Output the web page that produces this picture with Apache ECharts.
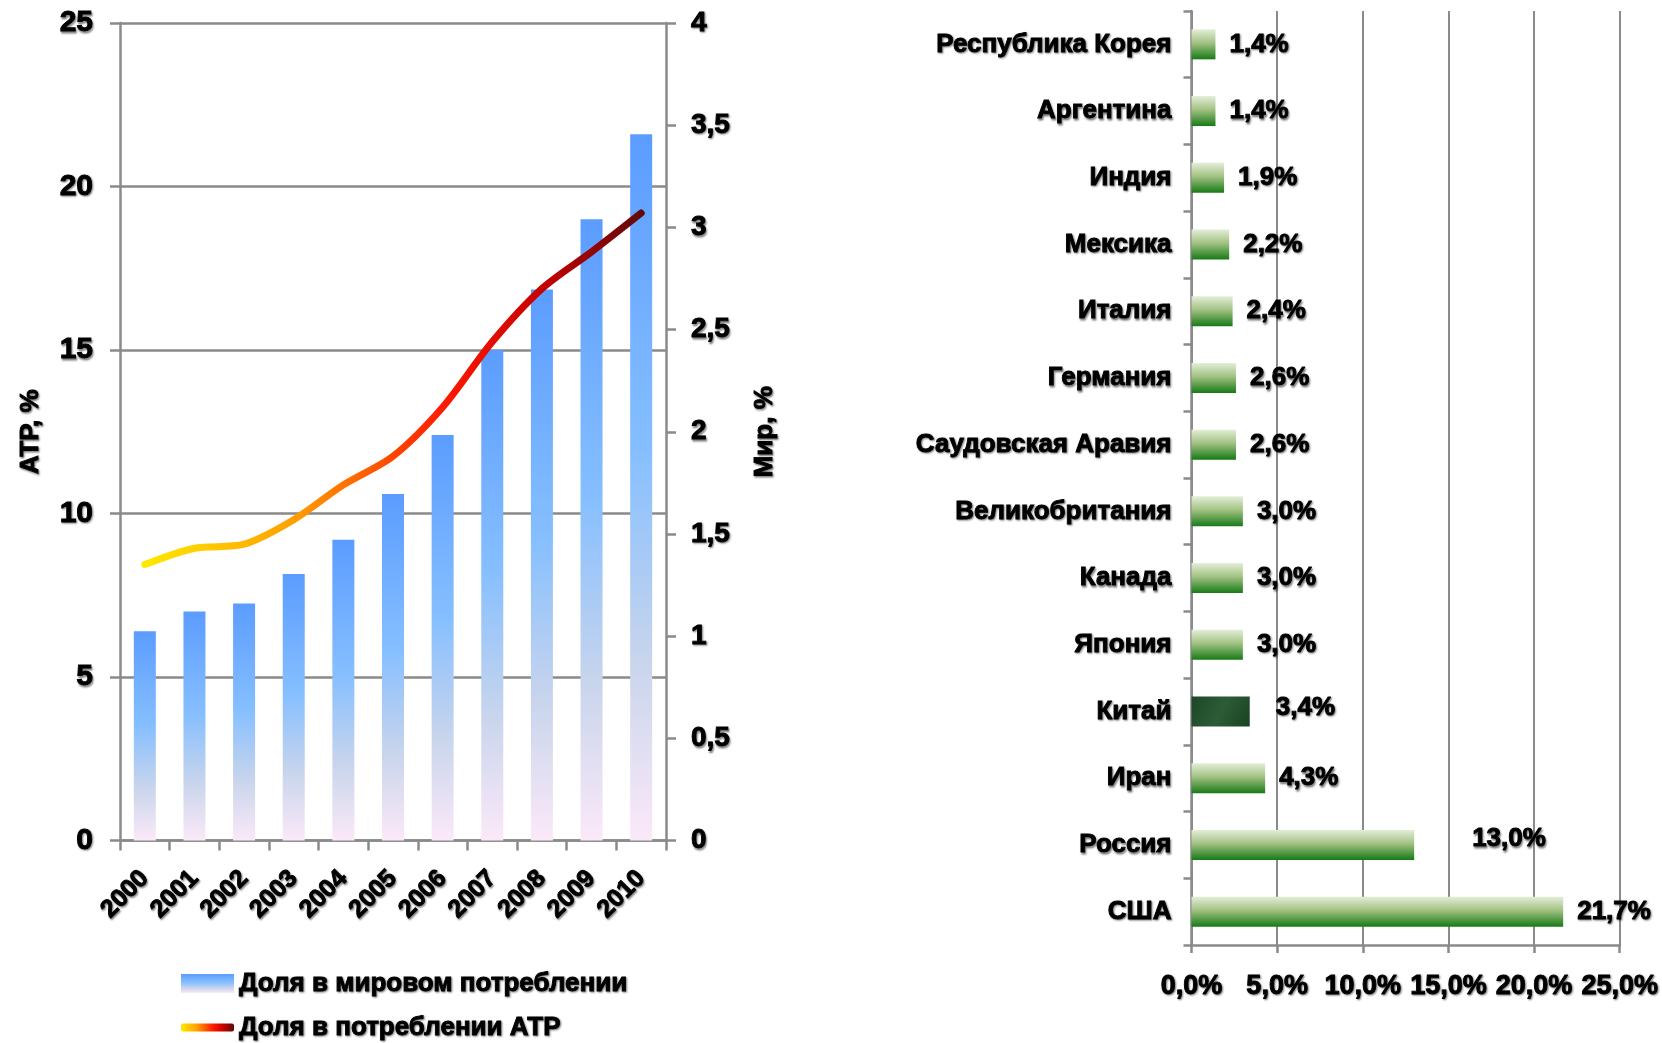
<!DOCTYPE html>
<html>
<head>
<meta charset="utf-8">
<script src="https://cdn.jsdelivr.net/npm/echarts@6/dist/echarts.min.js"></script>
<style>
  html, body { margin: 0; padding: 0; background: #fff; }
  #main { width: 1662px; height: 1043px; }
</style>
</head>
<body>
<div id="main"></div>
<script>
// годы и доли (левый график)
var years = ['2000', '2001', '2002', '2003', '2004', '2005', '2006', '2007', '2008', '2009', '2010'];
var worldShare = [6.4, 7.0, 7.25, 8.15, 9.2, 10.6, 12.4, 15.0, 16.85, 19.0, 21.6];
var atrShare = [1.35, 1.43, 1.45, 1.57, 1.74, 1.88, 2.12, 2.44, 2.70, 2.88, 3.07];
var leftTicks = [0, 5, 10, 15, 20, 25];
var rightTicks = [0, 0.5, 1, 1.5, 2, 2.5, 3, 3.5, 4];

// страны (правый график), сверху вниз
var countries = ['Республика Корея', 'Аргентина', 'Индия', 'Мексика', 'Италия', 'Германия',
  'Саудовская Аравия', 'Великобритания', 'Канада', 'Япония', 'Китай', 'Иран', 'Россия', 'США'];
var countryShare = [1.4, 1.4, 1.9, 2.2, 2.4, 2.6, 2.6, 3.0, 3.0, 3.0, 3.4, 4.3, 13.0, 21.7];
var pctTicks = [0, 5, 10, 15, 20, 25];

var FONT = '"Liberation Sans", Arial, sans-serif';
var heavy = {
  textBorderColor: '#000',
  textBorderWidth: 0.9,
  textShadowColor: 'rgba(0,0,0,0.45)',
  textShadowBlur: 2,
  textShadowOffsetX: 1,
  textShadowOffsetY: 1.5
};
function txt(size, extra) {
  return Object.assign({ fontFamily: FONT, fontWeight: 'bold', fontSize: size, color: '#000' }, heavy, extra || {});
}
function comma(v, digits) {
  return v.toFixed(digits).replace('.', ',');
}

var blueGrad = new echarts.graphic.LinearGradient(0, 0, 0, 1, [
  { offset: 0, color: '#5b9cff' },
  { offset: 0.45, color: '#86bfff' },
  { offset: 0.75, color: '#c9d5ec' },
  { offset: 1, color: '#fbe9f8' }
]);
var lineGrad = new echarts.graphic.LinearGradient(0, 0, 1, 0, [
  { offset: 0, color: '#ffea00' },
  { offset: 0.3, color: '#ffa000' },
  { offset: 0.6, color: '#ff1a00' },
  { offset: 0.8, color: '#c40000' },
  { offset: 1, color: '#5e0a0a' }
]);
var greenGrad = new echarts.graphic.LinearGradient(0, 0, 0, 1, [
  { offset: 0, color: '#e3eed8' },
  { offset: 0.45, color: '#a3c283' },
  { offset: 1, color: '#177a17' }
]);
var chinaGrad = new echarts.graphic.LinearGradient(0, 0, 1, 1, [
  { offset: 0, color: '#1d4628' },
  { offset: 0.5, color: '#2c5c36' },
  { offset: 1, color: '#1a4224' }
]);

var greenData = countryShare.map(function (v, i) {
  var item = { value: v, itemStyle: { color: countries[i] === 'Китай' ? chinaGrad : greenGrad } };
  if (countries[i] === 'Россия') item.label = { offset: [44, -6] };
  if (countries[i] === 'Китай') item.label = { offset: [12, -4] };
  return item;
});

var gray = '#8a8a8a';

var option = {
  animation: false,
  backgroundColor: '#fff',
  grid: [
    { left: 120, right: 996, top: 23, bottom: 202.5 },
    { left: 1191.5, right: 42.3, top: 11, bottom: 98 }
  ],
  legend: [
    {
      data: ['Доля в мировом потреблении'],
      left: 176, top: 965,
      icon: 'rect', itemWidth: 53, itemHeight: 19, itemGap: 4,
      textStyle: txt(26)
    },
    {
      data: ['Доля в потреблении АТР'],
      left: 176, top: 1009,
      icon: 'roundRect', itemWidth: 53, itemHeight: 8,
      textStyle: txt(26)
    }
  ],
  xAxis: [
    {
      gridIndex: 0, type: 'category', data: years, boundaryGap: true,
      axisLine: { lineStyle: { color: gray, width: 2.5 } },
      axisTick: { show: true, length: 10, lineStyle: { color: gray, width: 2.5 } },
      axisLabel: Object.assign(txt(25), { rotate: 45, margin: 34 })
    },
    {
      gridIndex: 1, type: 'value', min: pctTicks[0], max: pctTicks[pctTicks.length - 1], interval: 5,
      axisLine: { show: true, lineStyle: { color: gray, width: 2.5 } },
      axisTick: { show: true, length: 8, lineStyle: { color: gray, width: 2.5 } },
      splitLine: { show: true, lineStyle: { color: gray, width: 2 } },
      axisLabel: Object.assign(txt(27), {
        margin: 28,
        formatter: function (v) { return comma(v, 1) + '%'; }
      })
    }
  ],
  yAxis: [
    {
      gridIndex: 0, type: 'value', min: leftTicks[0], max: leftTicks[leftTicks.length - 1], interval: 5,
      name: 'АТР, %', nameLocation: 'middle', nameGap: 76, nameRotate: 90,
      nameTextStyle: txt(26),
      axisLine: { show: true, lineStyle: { color: gray, width: 2.5 } },
      axisTick: { show: true, length: 10, lineStyle: { color: gray, width: 2.5 } },
      splitLine: { show: true, lineStyle: { color: gray, width: 2.5 } },
      axisLabel: Object.assign(txt(30), { margin: 27 })
    },
    {
      gridIndex: 0, type: 'value', position: 'right',
      min: rightTicks[0], max: rightTicks[rightTicks.length - 1], interval: 0.5,
      name: 'Мир, %', nameLocation: 'middle', nameGap: 86, nameRotate: 90,
      nameTextStyle: txt(26),
      axisLine: { show: true, lineStyle: { color: gray, width: 2.5 } },
      axisTick: { show: true, length: 10, lineStyle: { color: gray, width: 2.5 } },
      splitLine: { show: false },
      axisLabel: Object.assign(txt(28), {
        margin: 25,
        formatter: function (v) { return String(v).replace('.', ','); }
      })
    },
    {
      gridIndex: 1, type: 'category', data: countries, inverse: true,
      axisLine: { show: true, lineStyle: { color: gray, width: 2.5 } },
      axisTick: { show: true, length: 8, lineStyle: { color: gray, width: 2.5 } },
      axisLabel: Object.assign(txt(26), { margin: 20 })
    }
  ],
  series: [
    {
      name: 'Доля в мировом потреблении', type: 'bar',
      xAxisIndex: 0, yAxisIndex: 0,
      data: worldShare, barWidth: 22,
      itemStyle: { color: blueGrad }
    },
    {
      name: 'Доля в потреблении АТР', type: 'line',
      xAxisIndex: 0, yAxisIndex: 1,
      data: atrShare, smooth: 0.3, symbol: 'none',
      itemStyle: { color: lineGrad },
      lineStyle: { color: lineGrad, width: 7, cap: 'round' },
      z: 5
    },
    {
      name: 'Страны', type: 'bar',
      xAxisIndex: 1, yAxisIndex: 2,
      data: greenData, barWidth: 30,
      label: Object.assign(txt(26), {
        show: true, position: 'right', distance: 14,
        formatter: function (p) { return comma(p.value, 1) + '%'; }
      })
    }
  ]
};

var chart = echarts.init(document.getElementById('main'));
chart.setOption(option);
</script>
</body>
</html>
